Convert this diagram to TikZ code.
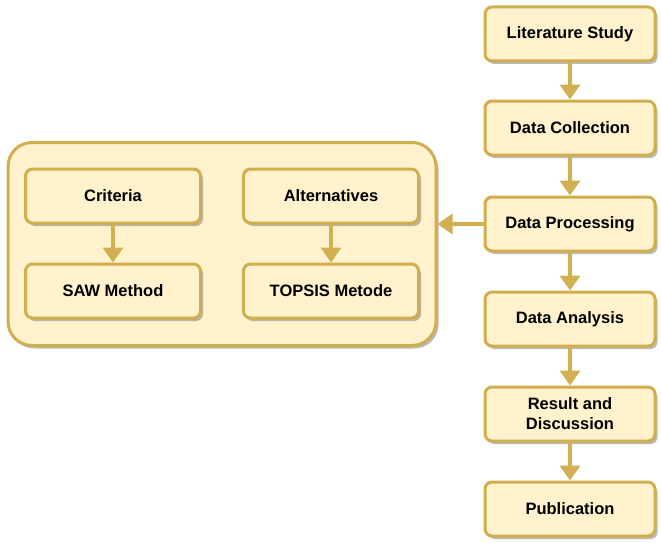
\documentclass[tikz,border=0pt]{standalone}
\usepackage{fontspec}
\setmainfont{Liberation Sans}
\usetikzlibrary{arrows.meta,shadows}
\definecolor{boxfill}{HTML}{FFF2CC}
\definecolor{boxline}{HTML}{D0AE4E}
\definecolor{arrowc}{HTML}{D2B052}
\tikzset{
  stepbox/.style={draw=boxline, fill=boxfill, line width=3pt, rounded corners=7pt,
    minimum width=170pt, minimum height=54pt, align=center,
    font=\bfseries\fontsize{16.5}{20}\selectfont,
    drop shadow={shadow xshift=2.5pt, shadow yshift=-3pt, fill=black!45, opacity=0.6}},
  innerbox/.style={stepbox, minimum width=175pt},
  bigbox/.style={draw=boxline, fill=boxfill, line width=3pt, rounded corners=24pt,
    drop shadow={shadow xshift=2.5pt, shadow yshift=-3pt, fill=black!45, opacity=0.6}},
  flow/.style={draw=arrowc, line width=4pt, -{Triangle[width=20pt,length=15pt]}}
}
\begin{document}
\begin{tikzpicture}[x=1pt,y=-1pt]
\useasboundingbox (0,0) rectangle (661,543);
\node[bigbox, minimum width=428pt, minimum height=203pt] (grp) at (222,244) {};
\node[stepbox] (lit) at (570,34) {Literature Study};
\node[stepbox] (col) at (570,128) {Data Collection};
\node[stepbox] (proc) at (570,224) {Data Processing};
\node[stepbox] (ana) at (570,319) {Data Analysis};
\node[stepbox] (res) at (570,414) {Result and\\Discussion};
\node[stepbox] (pub) at (570,509) {Publication};
\node[innerbox] (crit) at (113,196) {Criteria};
\node[innerbox] (saw) at (113,291) {SAW Method};
\node[innerbox] (alt) at (331,196) {Alternatives};
\node[innerbox] (top) at (331,291) {TOPSIS Metode};
\draw[flow] (lit) -- (col);
\draw[flow] (col) -- (proc);
\draw[flow] (proc) -- (ana);
\draw[flow] (ana) -- (res);
\draw[flow] (res) -- (pub);
\draw[flow] (proc.west) -- (grp.east |- proc.west);
\draw[flow] (crit) -- (saw);
\draw[flow] (alt) -- (top);
\end{tikzpicture}
\end{document}
